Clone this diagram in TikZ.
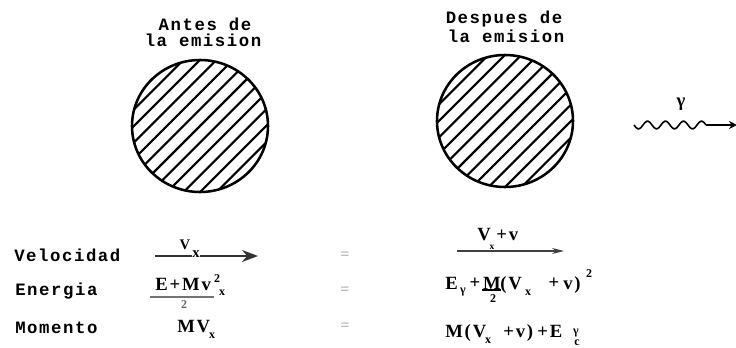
\documentclass[tikz,border=0pt]{standalone}
\usepackage{fontspec}
\usetikzlibrary{arrows.meta}
\newfontfamily\lblfont[LetterSpace=9]{Liberation Mono}
\newfontfamily\fmlfont[LetterSpace=10]{Liberation Serif}
\newfontfamily\fmlplain{Liberation Serif}
\begin{document}
\begin{tikzpicture}[x=0.75pt,y=-0.75pt,
  lbl/.style={font=\lblfont\bfseries\fontsize{13}{10.5}\selectfont, inner sep=0pt},
  fml/.style={font=\fmlfont\bfseries\fontsize{14}{14}\selectfont, inner sep=0pt},
  sub/.style={font=\fmlplain\bfseries\fontsize{9}{9}\selectfont, inner sep=0pt},
  eqs/.style={font=\fmlplain\bfseries\fontsize{12}{12}\selectfont, text=black!30, inner sep=0pt},
  hatch/.style={line width=1.6pt},
  rim/.style={line width=1.9pt},
  vline/.style={line width=1.1pt}]
\useasboundingbox (0,0) rectangle (736,347);
% titles
\node[lbl] (t1a) at (205,24) {Antes de};
\node[lbl] (t1b) at (203,40) {la emision};
\node[lbl] (t2a) at (504,19) {Despues de};
\node[lbl] (t2b) at (506,36) {la emision};
% circles
\foreach \cx/\cy/\nm in {200/126/c1, 505/121/c2}{
  \coordinate (\nm) at (\cx,\cy);
  \begin{scope}[shift={(\cx,\cy)}]
    \clip (0,0) ellipse [x radius=51pt, y radius=49.5pt];
    \foreach \k in {-5,...,5}{
      \draw[hatch] (\k*8.27-60,\k*8.27+60) -- (\k*8.27+60,\k*8.27-60);
    }
  \end{scope}
  \draw[rim] (\nm) ellipse [x radius=51pt, y radius=49.5pt];
}
% photon
\node[fml] (gam) at (681,104) {γ};
\coordinate (w0) at (634,125);
\coordinate (w1) at (706,125);
\coordinate (tip) at (737,125);
\begin{scope}[shift={(w0)}]
\draw[line width=1.2pt] plot[domain=0:72, samples=73, smooth] (\x,{3.8*sin(20*\x)});
\end{scope}
\draw[line width=1.2pt,-{Stealth[length=6pt,width=6pt]}] (w1) -- (tip);
% row labels
\node[lbl, anchor=base west] (vel) at (14,261) {Velocidad};
\node[lbl, anchor=base west] (ene) at (15,295) {Energia};
\node[lbl, anchor=base west] (mom) at (15,333) {Momento};
% equals
\node[eqs] (e1) at (345,256) {=};
\node[eqs] (e2) at (345,291) {=};
\node[eqs] (e3) at (345,327) {=};
% Velocidad left
\coordinate (a1s) at (155,256);
\coordinate (a1e) at (258,256);
\draw[vline, black!80, -{Stealth[length=12pt,width=9pt]}] (a1s) -- (a1e);
\node[sub, font=\fmlplain\bfseries\fontsize{11}{11}\selectfont, anchor=base] (v1) at (185,249) {V};
\node[sub, font=\fmlplain\bfseries\fontsize{11}{11}\selectfont, fill=white, inner sep=0.3pt] (v1x) at (196,254) {x};
% Velocidad right
\coordinate (a2s) at (457,251);
\coordinate (a2e) at (564,251);
\draw[vline, black!75, -{Stealth[length=9pt,width=4.5pt]}] (a2s) -- (a2e);
\node[fml, anchor=base west] (v2) at (477,240) {V};
\node[fml, anchor=base west] (v2b) at (496,240) {+v};
\node[sub, font=\fmlplain\bfseries\fontsize{7}{7}\selectfont] (v2x) at (492,247.5) {x};
% Energia left
\node[fml, anchor=base west] (el) at (155,290) {E+Mv};
\node[sub] (el2) at (217,279) {2};
\node[sub] (elx) at (222,293) {x};
\coordinate (b1s) at (150,297);
\coordinate (b1e) at (214,297);
\draw[line width=1pt, black!55] (b1s) -- (b1e);
\node[sub, text=black!60] (eld) at (184,305) {2};
% Momento left
\node[fml, anchor=base west] (ml) at (177,332) {MV};
\node[sub] (mlx) at (212,336) {x};
% Energia right
\node[fml, anchor=base west] (er) at (445,289) {E};
\node[sub] (erg) at (463,292) {γ};
\node[fml] (erp) at (475,283) {+};
\node[fml, anchor=base] (erm) at (492,289) {M};
\coordinate (b2s) at (482,290);
\coordinate (b2e) at (501,290);
\draw[line width=1pt] (b2s) -- (b2e);
\node[sub] (erd) at (493,299) {2};
\node[fml, anchor=base west] (erv) at (500,289) {(V};
\node[sub] (erx) at (528,293) {x};
\node[fml] (erp2) at (554,283) {+};
\node[fml, anchor=base west] (erv2) at (563,289) {v)};
\node[sub] (er2) at (589,274) {2};
% Momento right
\node[fml, anchor=base west] (mr) at (445,337) {M(V};
\node[sub] (mrx) at (488,341) {x};
\node[fml, anchor=base west] (mr2) at (503,337) {+v)};
\node[fml, anchor=base west] (mr3) at (537,337) {+E};
\node[sub] (mrg) at (576,333) {γ};
\node[sub] (mrc) at (577,343) {c};
\end{tikzpicture}
\end{document}
